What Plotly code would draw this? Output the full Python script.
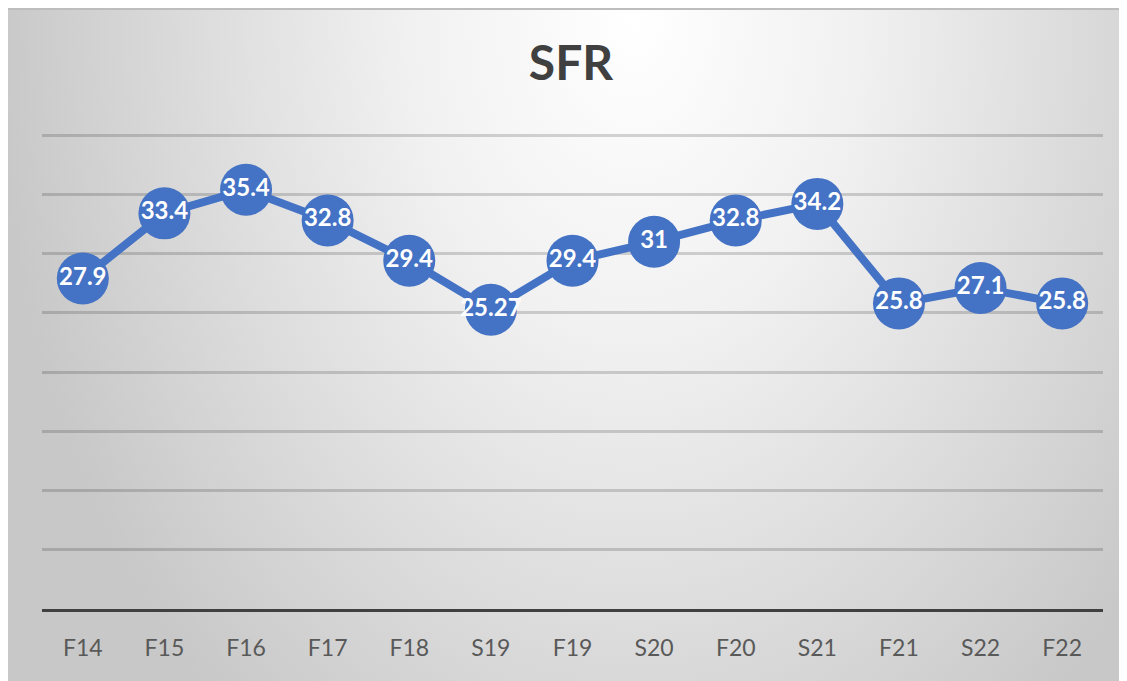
import base64
import plotly.graph_objects as go

# ---- data ----
terms = ["F14", "F15", "F16", "F17", "F18", "S19", "F19",
         "S20", "F20", "S21", "F21", "S22", "F22"]
sfr = [27.9, 33.4, 35.4, 32.8, 29.4, 25.27, 29.4,
       31, 32.8, 34.2, 25.8, 27.1, 25.8]
y_ticks = [0, 5, 10, 15, 20, 25, 30, 35, 40]

BLUE = "#4472C4"
# page body has an 8px margin, so the figure is shrunk by that much
W, H = 1127 - 8, 681 - 8
L, R, T, B = 34, 24, 126, 72

# radial grey background like the Excel chart style
cx, cy = 626, 12
svg = f'''<svg xmlns="http://www.w3.org/2000/svg" width="{W}" height="{H}">
<defs><radialGradient id="g" gradientUnits="userSpaceOnUse" cx="{cx}" cy="{cy}" r="640"
 gradientTransform="translate({cx},{cy}) scale(1,1.4) translate({-cx},{-cy})">
<stop offset="0" stop-color="#ffffff"/><stop offset="0.35" stop-color="#f1f1f1"/>
<stop offset="1" stop-color="#c8c8c8"/></radialGradient></defs>
<rect x="0" y="0" width="{W}" height="{H}" fill="url(#g)"/>
<line x1="0" y1="1" x2="{W}" y2="1" stroke="#bdbdbd" stroke-width="2"/>
</svg>'''
bg_src = "data:image/svg+xml;base64," + base64.b64encode(svg.encode()).decode()

pw, ph = W - L - R, H - T - B

fig = go.Figure()
fig.add_trace(go.Scatter(
    x=terms, y=sfr,
    mode="lines+markers+text",
    line=dict(color=BLUE, width=8),
    marker=dict(color=BLUE, size=52, line=dict(width=0)),
    text=[f"{v:g}" for v in sfr],
    textposition="middle center",
    textfont=dict(family="Lato", size=24, color="white", weight="bold"),
    hoverinfo="skip",
    cliponaxis=False,
))

fig.update_layout(
    width=W, height=H,
    margin=dict(l=L, r=R, t=T, b=B),
    paper_bgcolor="white",
    plot_bgcolor="rgba(0,0,0,0)",
    showlegend=False,
    font=dict(family="Lato", color="#595959"),
    title=dict(text="<b>SFR</b>", x=(571 - 8) / W, xanchor="center",
               y=1 - (63 - 8) / H, yanchor="middle", yref="container",
               font=dict(family="Lato", size=48, color="#404040")),
    images=[dict(source=bg_src, xref="paper", yref="paper",
                 x=-L / pw, y=(H - B) / ph,
                 sizex=W / pw, sizey=H / ph,
                 xanchor="left", yanchor="top",
                 sizing="stretch", layer="below")],
)
fig.update_xaxes(
    type="category", range=[-0.5, len(terms) - 0.5],
    showgrid=False, showline=True, linecolor="#404040", linewidth=3,
    ticks="outside", ticklen=16, tickcolor="rgba(0,0,0,0)",
    tickfont=dict(family="Lato", size=23, color="#595959"),
)
# a hair above 40 so the top gridline is still drawn
fig.update_yaxes(
    range=[0, 40.1], tickvals=y_ticks, showticklabels=False,
    showgrid=True, gridcolor="rgba(0,0,0,0.16)", gridwidth=2.5, zeroline=False,
)

fig.write_html("out.html")
